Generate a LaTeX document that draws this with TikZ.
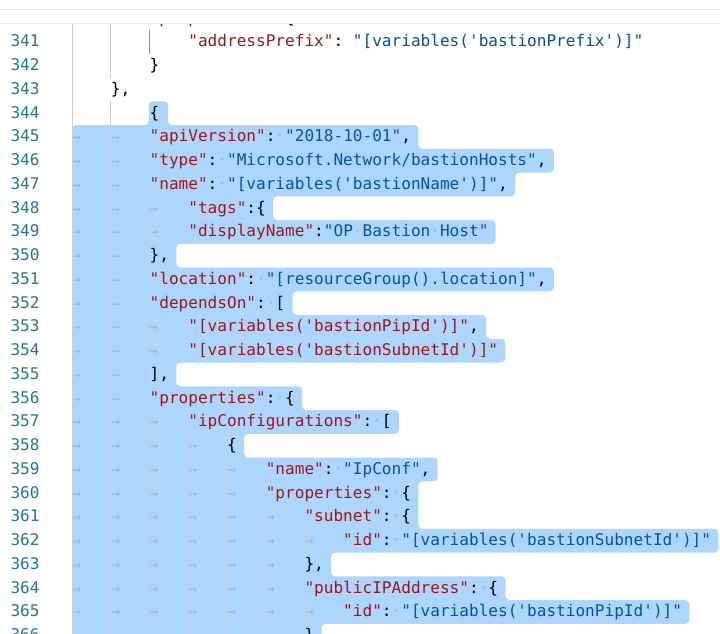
\documentclass[tikz,border=0pt]{standalone}
\usepackage{fontspec}
\setmonofont{DejaVu Sans Mono}
\definecolor{kc}{HTML}{A31515}
\definecolor{vc}{HTML}{0451A5}
\definecolor{lnc}{HTML}{237893}
\definecolor{sel}{HTML}{ADD6FF}
\definecolor{ws}{HTML}{A9B3BF}
\definecolor{gd}{HTML}{CDCDCD}
\definecolor{gda}{HTML}{939393}
\definecolor{hdr}{HTML}{E3E3E3}
\newlength\jcw \setlength\jcw{9.68pt}
\newcommand\jk[1]{\textcolor{kc}{#1}}
\newcommand\jv[1]{\textcolor{vc}{#1}}
\newcommand\jd{\hbox to \jcw{\hss\textcolor{ws}{·}\hss}}
\newcommand\jt{\hbox to 4\jcw{\kern0.6pt\textcolor{ws}{\fontsize{14}{14}\selectfont →}\hss}}
\newcommand\js{\hbox to \jcw{}}
\newcommand\jg[2]{\foreach \jj in {1,...,#2}{\draw[guide] ({72.2+38.72*(\jj-1)},{30+23.75*(#1)}) -- ++(0,23.75);}}
\begin{document}
\begin{tikzpicture}[x=1pt,y=-1pt,
  code/.style={font=\ttfamily\fontsize{16.08}{20}\selectfont, inner sep=0pt, outer sep=0pt, anchor=base west},
  num/.style={font=\ttfamily\fontsize{16.08}{20}\selectfont, text=lnc, inner sep=0pt, outer sep=0pt, anchor=base east},
  guide/.style={draw=gd, line width=1pt}]
\useasboundingbox (0,0) rectangle (720,634);
\clip (0,0) rectangle (720,634);
\fill[white] (0,0) rectangle (720,634);
% selection
\fill[sel, rounded corners=4pt] (158,101.25) -- (168,101.25) -- (168,125) -- (418.3,125) -- (418.3,148.75) -- (553.8,148.75) -- (553.8,172.5) -- (515.1,172.5) -- (515.1,196.25) -- (273.1,196.25) -- (273.1,220) -- (495.7,220) -- (495.7,243.75) -- (176.3,243.75) -- (176.3,267.5) -- (553.8,267.5) -- (553.8,291.25) -- (292.5,291.25) -- (292.5,315) -- (486.1,315) -- (486.1,338.75) -- (505.4,338.75) -- (505.4,362.5) -- (176.3,362.5) -- (176.3,386.25) -- (302.1,386.25) -- (302.1,410) -- (398.9,410) -- (398.9,433.75) -- (244.1,433.75) -- (244.1,457.5) -- (437.7,457.5) -- (437.7,481.25) -- (418.3,481.25) -- (418.3,528.75) -- (718.4,528.75) -- (718.4,552.5) -- (331.2,552.5) -- (331.2,576.25) -- (505.4,576.25) -- (505.4,600) -- (689.3,600) -- (689.3,623.75) -- (321.5,623.75) -- (321.5,660) -- (72.2,660) -- (72.2,125) -- (148.8,125) -- (148.8,101.25) -- cycle;
% indent guides
\jg{-1}{2}\jg{0}{3}\jg{1}{2}\jg{2}{1}\jg{3}{2}\jg{4}{2}\jg{5}{2}\jg{6}{2}\jg{7}{3}\jg{8}{3}
\jg{9}{2}\jg{10}{2}\jg{11}{2}\jg{12}{3}\jg{13}{3}\jg{14}{2}\jg{15}{2}\jg{16}{3}\jg{17}{4}
\jg{18}{5}\jg{19}{5}\jg{20}{6}\jg{21}{7}\jg{22}{6}\jg{23}{6}\jg{24}{7}\jg{25}{6}
\draw[draw=gda, line width=1pt] (149.64,30) -- (149.64,53.75);
% code lines
\node[code] (c340) at (149.64,23.15) {\jk{"properties"}:\js\{};
\node[code] (c341) at (188.36,46.9) {\jk{"addressPrefix"}:\js\jv{"[variables('bastionPrefix')]"}};
\node[code] (c342) at (149.64,70.65) {\}};
\node[code] (c343) at (110.92,94.4) {\},};
\node[code] (c344) at (149.64,118.15) {\{};
\node[code] (c345) at (72.2,141.9) {\jt\jt\jk{"apiVersion"}:\jd\jv{"2018-10-01"},};
\node[code] (c346) at (72.2,165.65) {\jt\jt\jk{"type"}:\jd\jv{"Microsoft.Network/bastionHosts"},};
\node[code] (c347) at (72.2,189.4) {\jt\jt\jk{"name"}:\jd\jv{"[variables('bastionName')]"},};
\node[code] (c348) at (72.2,213.15) {\jt\jt\jt\jk{"tags"}:\{};
\node[code] (c349) at (72.2,236.9) {\jt\jt\jt\jk{"displayName"}:\jv{"OP\jd Bastion\jd Host"}};
\node[code] (c350) at (72.2,260.65) {\jt\jt\},};
\node[code] (c351) at (72.2,284.4) {\jt\jt\jk{"location"}:\jd\jv{"[resourceGroup().location]"},};
\node[code] (c352) at (72.2,308.15) {\jt\jt\jk{"dependsOn"}:\jd[};
\node[code] (c353) at (72.2,331.9) {\jt\jt\jt\jk{"[variables('bastionPipId')]"},};
\node[code] (c354) at (72.2,355.65) {\jt\jt\jt\jk{"[variables('bastionSubnetId')]"}};
\node[code] (c355) at (72.2,379.4) {\jt\jt],};
\node[code] (c356) at (72.2,403.15) {\jt\jt\jk{"properties"}:\jd\{};
\node[code] (c357) at (72.2,426.9) {\jt\jt\jt\jk{"ipConfigurations"}:\jd[};
\node[code] (c358) at (72.2,450.65) {\jt\jt\jt\jt\{};
\node[code] (c359) at (72.2,474.4) {\jt\jt\jt\jt\jt\jk{"name"}:\jd\jv{"IpConf"},};
\node[code] (c360) at (72.2,498.15) {\jt\jt\jt\jt\jt\jk{"properties"}:\jd\{};
\node[code] (c361) at (72.2,521.9) {\jt\jt\jt\jt\jt\jt\jk{"subnet"}:\jd\{};
\node[code] (c362) at (72.2,545.65) {\jt\jt\jt\jt\jt\jt\jt\jk{"id"}:\jd\jv{"[variables('bastionSubnetId')]"}};
\node[code] (c363) at (72.2,569.4) {\jt\jt\jt\jt\jt\jt\},};
\node[code] (c364) at (72.2,593.15) {\jt\jt\jt\jt\jt\jt\jk{"publicIPAddress"}:\jd\{};
\node[code] (c365) at (72.2,616.9) {\jt\jt\jt\jt\jt\jt\jt\jk{"id"}:\jd\jv{"[variables('bastionPipId')]"}};
\node[code] (c366) at (72.2,640.65) {\jt\jt\jt\jt\jt\jt\}};
% line numbers
\foreach \n [count=\i from 0] in {341,...,366}{
  \node[num] (n\n) at (39.6,{46.9+23.75*\i}) {\n};
}
% header
\fill[white] (0,0) rectangle (720,23.2);
\fill[hdr] (0,9.3) rectangle (720,10.3);
\fill[black!16] (0,22.6) rectangle (720,23.4);
\fill[black!8] (0,23.4) rectangle (720,24.2);
\end{tikzpicture}
\end{document}
